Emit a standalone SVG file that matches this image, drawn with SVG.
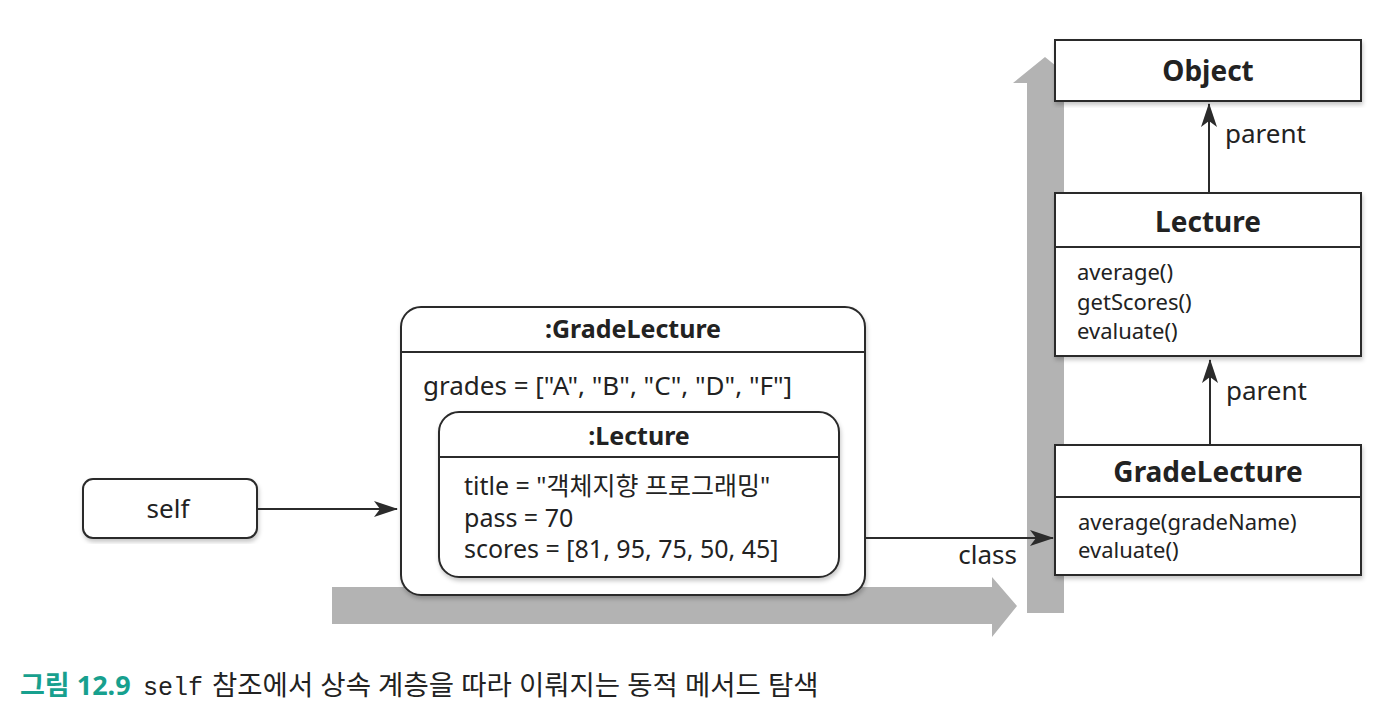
<svg xmlns="http://www.w3.org/2000/svg" width="1388" height="717" viewBox="0 0 1388 717">
<style>
  .box { fill: #fff; stroke: #2b2b2b; stroke-width: 2; }
  .div { stroke: #2b2b2b; stroke-width: 2; fill: none; }
  .t { font-family: "Noto Sans", "Noto Sans CJK KR", sans-serif; fill: #222; }
  .b { font-weight: bold; }
  .conn { stroke: #2b2b2b; stroke-width: 2; fill: none; marker-end: url(#ah); }
  .flow { fill: #b3b3b3; }
</style>
<defs>
  <marker id="ah" viewBox="0 0 24 18" refX="23" refY="9" markerWidth="24" markerHeight="18" markerUnits="userSpaceOnUse" orient="auto">
    <path d="M0,1 L24,9 L0,17 L6,9 Z" fill="#2b2b2b"/>
  </marker>
  <filter id="sh" x="-5%" y="-5%" width="110%" height="115%">
    <feDropShadow dx="1" dy="3" stdDeviation="2" flood-color="#000" flood-opacity="0.22"/>
  </filter>
</defs>
<rect width="1388" height="717" fill="#fff"/>

<g id="flow-arrows">
  <path class="flow" d="M332,587 L992,587 L992,577 L1017,606 L992,637 L992,624 L332,624 Z"/>
  <path class="flow" d="M1027,613 L1027,83 L1013,83 L1045,57 L1077,83 L1064,83 L1064,613 Z"/>
</g>

<g id="self">
  <rect class="box" x="83" y="479" width="174" height="59" rx="10" filter="url(#sh)"/>
  <text class="t" x="168" y="518" font-size="26" text-anchor="middle">self</text>
</g>

<g id="grade-lecture-instance">
  <rect class="box" x="401" y="307" width="464" height="288" rx="20" filter="url(#sh)"/>
  <line class="div" x1="401" y1="352" x2="865" y2="352"/>
  <text class="t b" x="633" y="338" font-size="25" text-anchor="middle">:GradeLecture</text>
  <text class="t" x="423" y="395" font-size="26">grades = ["A", "B", "C", "D", "F"]</text>
</g>

<g id="lecture-instance">
  <rect class="box" x="439" y="412" width="400" height="165" rx="20" filter="url(#sh)"/>
  <line class="div" x1="439" y1="457" x2="839" y2="457"/>
  <text class="t b" x="639" y="445" font-size="25" text-anchor="middle">:Lecture</text>
  <text class="t" x="464" y="495" font-size="25">title = "객체지향 프로그래밍"</text>
  <text class="t" x="464" y="527" font-size="25">pass = 70</text>
  <text class="t" x="464" y="558" font-size="25">scores = [81, 95, 75, 50, 45]</text>
</g>

<g id="object-class">
  <rect class="box" x="1055" y="40" width="306" height="61" filter="url(#sh)"/>
  <text class="t b" x="1208" y="81" font-size="28" text-anchor="middle">Object</text>
</g>

<g id="lecture-class">
  <rect class="box" x="1055" y="193" width="306" height="163" filter="url(#sh)"/>
  <line class="div" x1="1055" y1="247" x2="1361" y2="247"/>
  <text class="t b" x="1208" y="232" font-size="28" text-anchor="middle">Lecture</text>
  <text class="t" x="1077" y="280" font-size="22">average()</text>
  <text class="t" x="1077" y="310" font-size="22">getScores()</text>
  <text class="t" x="1077" y="339" font-size="22">evaluate()</text>
</g>

<g id="gradelecture-class">
  <rect class="box" x="1055" y="445" width="306" height="130" filter="url(#sh)"/>
  <line class="div" x1="1055" y1="497" x2="1361" y2="497"/>
  <text class="t b" x="1208" y="482" font-size="28" text-anchor="middle">GradeLecture</text>
  <text class="t" x="1078" y="530" font-size="22">average(gradeName)</text>
  <text class="t" x="1078" y="558" font-size="22">evaluate()</text>
</g>

<g id="connectors">
  <line class="conn" x1="257" y1="509" x2="397" y2="509"/>
  <line class="conn" x1="865" y1="538" x2="1053" y2="538"/>
  <text class="t" x="1017" y="564" font-size="26" text-anchor="end">class</text>
  <line class="conn" x1="1209" y1="193" x2="1209" y2="104"/>
  <text class="t" x="1225" y="143" font-size="26">parent</text>
  <line class="conn" x1="1210" y1="445" x2="1210" y2="360"/>
  <text class="t" x="1226" y="400" font-size="26">parent</text>
</g>

<g id="caption">
  <text class="t" y="695" font-size="27.5" fill="#333">
    <tspan x="20" font-size="27" font-weight="bold" fill="#17a08e">그림 12.9</tspan>
    <tspan x="143" font-family="Liberation Mono, monospace" font-size="25">self</tspan>
    <tspan x="212">참조에서 상속 계층을 따라 이뤄지는 동적 메서드 탐색</tspan>
  </text>
</g>
</svg>
